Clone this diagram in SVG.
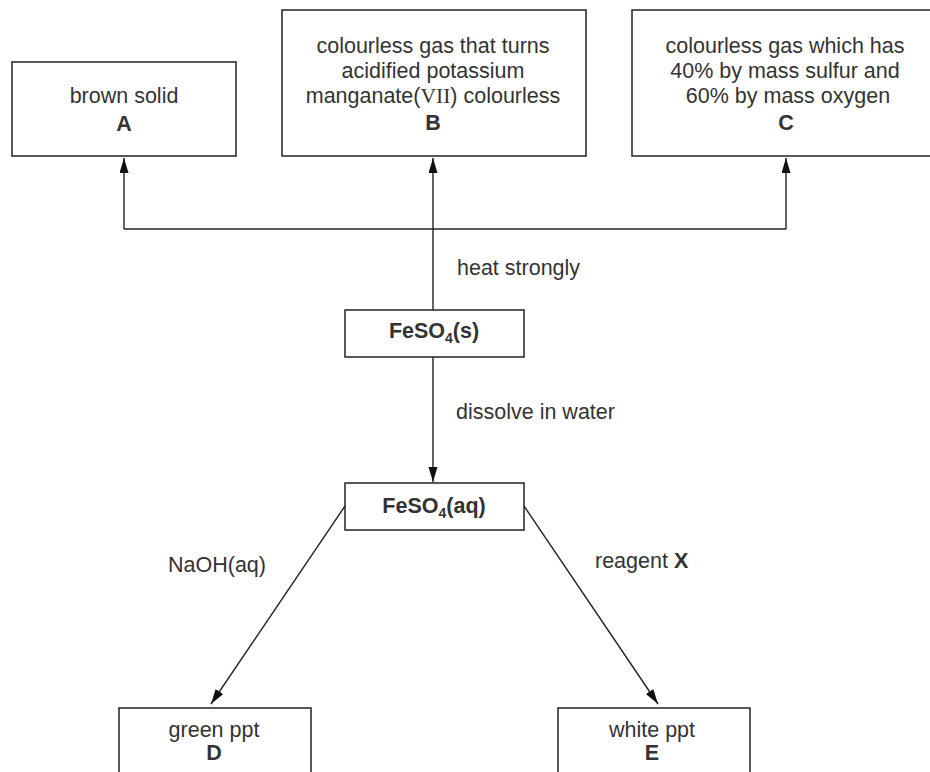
<svg xmlns="http://www.w3.org/2000/svg" width="930" height="772" viewBox="0 0 930 772">
<style>
.box{fill:#fff;stroke:#222;stroke-width:1.5}
.t{font-family:"Liberation Sans",Arial,sans-serif;font-size:21.5px;fill:#333;text-anchor:middle}
.l{font-family:"Liberation Sans",Arial,sans-serif;font-size:21.5px;fill:#333}
.b{font-weight:bold}
.c{fill:none;stroke:#222;stroke-width:1.4}
</style>
<defs>
<marker id="ah" markerUnits="userSpaceOnUse" markerWidth="16" markerHeight="10" refX="15" refY="4.5" orient="auto">
<path d="M0,0 L15,4.5 L0,9 Z" fill="#111"/>
</marker>
</defs>
<rect width="930" height="772" fill="#fff"/>
<g id="connectors">
<path class="c" d="M433,310 L433,158" marker-end="url(#ah)"/>
<path class="c" d="M124,229 L786,229"/>
<path class="c" d="M124,229 L124,158" marker-end="url(#ah)"/>
<path class="c" d="M786,229 L786,158" marker-end="url(#ah)"/>
<path class="c" d="M433,357 L433,482" marker-end="url(#ah)"/>
<path class="c" d="M345,506 L211,704" marker-end="url(#ah)"/>
<path class="c" d="M524,506 L658,704" marker-end="url(#ah)"/>
<text class="l" x="457" y="275">heat strongly</text>
<text class="l" x="456" y="419">dissolve in water</text>
<text class="l" x="168" y="572">NaOH(aq)</text>
<text class="l" x="595" y="568">reagent <tspan class="b">X</tspan></text>
</g>
<g id="nodeA">
<rect class="box" x="12" y="62" width="224" height="94"/>
<text class="t" x="124" y="103">brown solid</text>
<text class="t b" x="124" y="131">A</text>
</g>
<g id="nodeB">
<rect class="box" x="282" y="10" width="304" height="146"/>
<text class="t" x="433" y="53">colourless gas that turns</text>
<text class="t" x="433" y="78">acidified potassium</text>
<text class="t" x="433" y="103">manganate(<tspan font-family="'Liberation Serif',serif">VII</tspan>) colourless</text>
<text class="t b" x="433" y="130">B</text>
</g>
<g id="nodeC">
<rect class="box" x="632" y="10" width="310" height="146"/>
<text class="t" x="785" y="53">colourless gas which has</text>
<text class="t" x="785" y="78">40% by mass sulfur and</text>
<text class="t" x="788" y="103">60% by mass oxygen</text>
<text class="t b" x="786" y="130">C</text>
</g>
<g id="nodeFeSO4s">
<rect class="box" x="345" y="310" width="179" height="47"/>
<text class="t b" x="434" y="338">FeSO<tspan font-size="14" dy="5">4</tspan><tspan dy="-5">(s)</tspan></text>
</g>
<g id="nodeFeSO4aq">
<rect class="box" x="345" y="483" width="179" height="47"/>
<text class="t b" x="434" y="513">FeSO<tspan font-size="14" dy="5">4</tspan><tspan dy="-5">(aq)</tspan></text>
</g>
<g id="nodeD">
<rect class="box" x="119" y="708" width="192" height="90"/>
<text class="t" x="214" y="737">green ppt</text>
<text class="t b" x="214" y="760">D</text>
</g>
<g id="nodeE">
<rect class="box" x="558" y="708" width="192" height="90"/>
<text class="t" x="652" y="737">white ppt</text>
<text class="t b" x="652" y="760">E</text>
</g>
</svg>
